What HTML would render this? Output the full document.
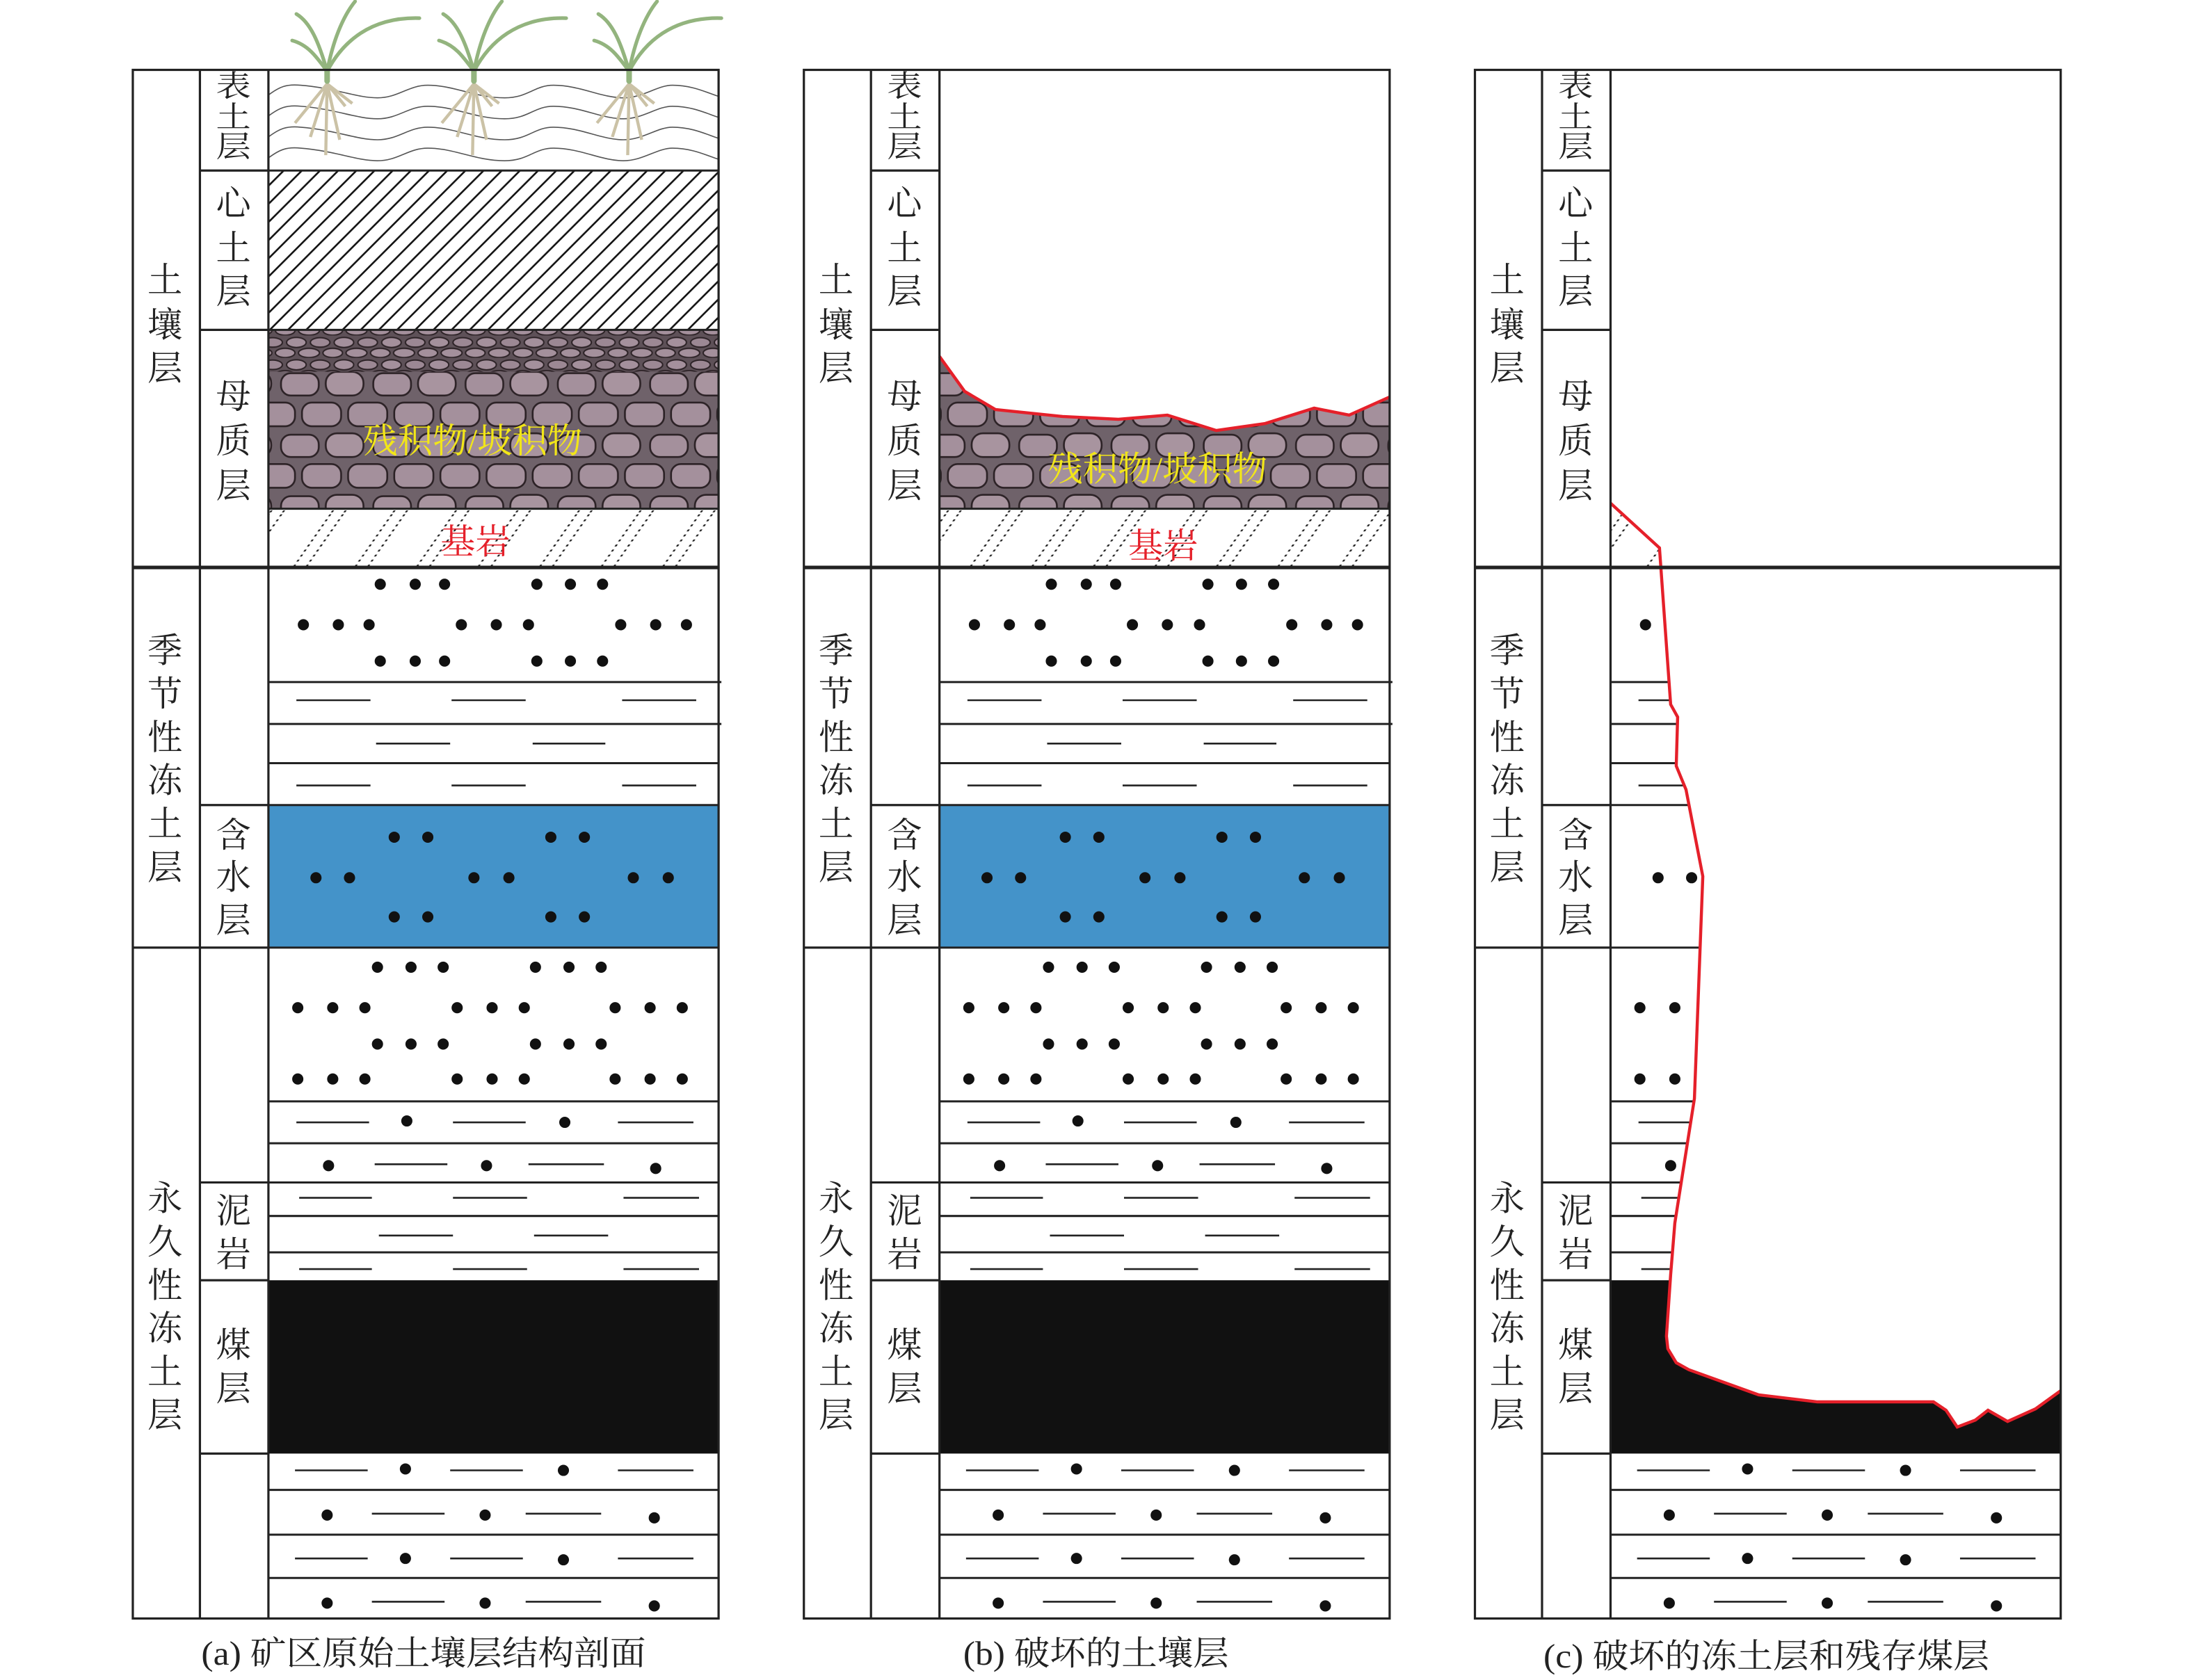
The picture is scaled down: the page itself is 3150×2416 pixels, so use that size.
<!DOCTYPE html>
<html><head><meta charset="utf-8"><style>
html,body{margin:0;padding:0;background:#fff;}
svg{display:block;}
text{font-family:"Liberation Serif","Noto Serif CJK SC","Noto Sans CJK SC",serif;}
</style></head><body>
<svg width="3150" height="2416" viewBox="0 0 1567.2 1202" preserveAspectRatio="none" xmlns="http://www.w3.org/2000/svg">
<defs>
<pattern id="hatch" patternUnits="userSpaceOnUse" width="13" height="13">
<path d="M-2,15 L15,-2 M-2,2 L2,-2 M11,15 L15,11" stroke="#111" stroke-width="1.3"/>
</pattern>
<pattern id="bed" patternUnits="userSpaceOnUse" width="44" height="46" patternTransform="skewX(-35)">
<line x1="10" y1="0" x2="10" y2="46" stroke="#222" stroke-width="1.4" stroke-dasharray="1.4 2.2"/>
<line x1="19" y1="0" x2="19" y2="46" stroke="#222" stroke-width="1.4" stroke-dasharray="1.4 2.2"/>
</pattern>
<pattern id="stoneS" patternUnits="userSpaceOnUse" width="34" height="16">
<rect width="34" height="16" fill="#5e5158"/>
<ellipse cx="8" cy="5" rx="7" ry="3.6" fill="#a4909c" stroke="#2c2226" stroke-width="1"/>
<ellipse cx="25" cy="5" rx="7" ry="3.4" fill="#9c8894" stroke="#2c2226" stroke-width="1"/>
<ellipse cx="17" cy="12.5" rx="7.5" ry="3.3" fill="#a4909c" stroke="#2c2226" stroke-width="1"/>
<ellipse cx="0" cy="12.5" rx="7" ry="3.3" fill="#a4909c" stroke="#2c2226" stroke-width="1"/>
<ellipse cx="34" cy="12.5" rx="7" ry="3.3" fill="#a4909c" stroke="#2c2226" stroke-width="1"/>
</pattern>
<pattern id="stoneL" patternUnits="userSpaceOnUse" width="66" height="44">
<rect width="66" height="44" fill="#6f626a"/>
<rect x="3" y="3" width="27" height="16" rx="7" fill="#a4909c" stroke="#2c2226" stroke-width="1.3"/>
<rect x="35" y="2" width="27" height="17" rx="8" fill="#a8949f" stroke="#2c2226" stroke-width="1.3"/>
<rect x="18" y="24" width="28" height="17" rx="7" fill="#a4909c" stroke="#2c2226" stroke-width="1.3"/>
<rect x="-15" y="24" width="28" height="17" rx="7" fill="#a4909c" stroke="#2c2226" stroke-width="1.3"/>
<rect x="51" y="24" width="28" height="17" rx="7" fill="#a4909c" stroke="#2c2226" stroke-width="1.3"/>
</pattern>

<g id="frame">
<rect x="95" y="50" width="419" height="1108" fill="none" stroke="#222" stroke-width="1.6"/>
<line x1="143" y1="50" x2="143" y2="1158" stroke="#222" stroke-width="1.6"/>
<line x1="192" y1="50" x2="192" y2="1158" stroke="#222" stroke-width="1.6"/>
<line x1="95" y1="406" x2="514" y2="406" stroke="#222" stroke-width="2.6"/>
<line x1="95" y1="678" x2="192" y2="678" stroke="#222" stroke-width="1.6"/>
<g stroke="#222" stroke-width="1.6">
<line x1="143" y1="122" x2="192" y2="122"/><line x1="143" y1="236" x2="192" y2="236"/>
<line x1="143" y1="576" x2="192" y2="576"/><line x1="143" y1="846" x2="192" y2="846"/>
<line x1="143" y1="916" x2="192" y2="916"/><line x1="143" y1="1040" x2="192" y2="1040"/>
</g>
<g font-size="25" fill="#222" text-anchor="middle">
<text x="118" y="209">土</text><text x="118" y="241">壤</text><text x="118" y="272">层</text>
<text x="118" y="474">季</text><text x="118" y="505">节</text><text x="118" y="536">性</text><text x="118" y="567">冻</text><text x="118" y="598">土</text><text x="118" y="629">层</text>
<text x="118" y="866">永</text><text x="118" y="897">久</text><text x="118" y="928">性</text><text x="118" y="959">冻</text><text x="118" y="990">土</text><text x="118" y="1021">层</text>
<g transform="translate(167,0) scale(1,0.85)"><text x="0" y="81">表</text><text x="0" y="107">土</text><text x="0" y="132">层</text></g>
<text x="167" y="154">心</text><text x="167" y="186">土</text><text x="167" y="217">层</text>
<text x="167" y="292">母</text><text x="167" y="324">质</text><text x="167" y="356">层</text>
<text x="167" y="606">含</text><text x="167" y="636">水</text><text x="167" y="667">层</text>
<text x="167" y="875">泥</text><text x="167" y="906">岩</text>
<text x="167" y="971">煤</text><text x="167" y="1002">层</text>
</g>
</g>

<rect id="blue" x="192" y="576" width="322" height="102" fill="#4493c9"/>

<g id="low">
<rect x="192" y="916" width="322" height="124" fill="#111"/>
<g stroke="#222" stroke-width="1.5">
<line x1="192" y1="488" x2="516" y2="488"/><line x1="192" y1="518" x2="516" y2="518"/><line x1="192" y1="546" x2="514" y2="546"/>
<line x1="192" y1="576" x2="514" y2="576"/><line x1="192" y1="678" x2="514" y2="678"/>
<line x1="192" y1="788" x2="514" y2="788"/><line x1="192" y1="818" x2="514" y2="818"/><line x1="192" y1="846" x2="514" y2="846"/>
<line x1="192" y1="870" x2="514" y2="870"/><line x1="192" y1="896" x2="514" y2="896"/>
<line x1="192" y1="1066" x2="514" y2="1066"/><line x1="192" y1="1098" x2="514" y2="1098"/><line x1="192" y1="1129" x2="514" y2="1129"/>
</g>
<g stroke="#222" stroke-width="1.3">
<path d="M212 501H265M323 501H376M445 501H498"/>
<path d="M269 532H322M381 532H433"/>
<path d="M212 562H265M323 562H376M445 562H498"/>
<path d="M212 803H264M324 803H376M442 803H496"/>
<path d="M268 833H320M378 833H432"/>
<path d="M214 857H266M324 857H377M446 857H500"/>
<path d="M271 884H324M382 884H435"/>
<path d="M214 908H266M324 908H377M446 908H500"/>
<path d="M211 1052H263M322 1052H374M442 1052H496"/>
<path d="M266 1083H318M376 1083H430"/>
<path d="M211 1115H263M322 1115H374M442 1115H496"/>
<path d="M266 1146H318M376 1146H430"/>
</g>
<g fill="#111">
<circle cx="272" cy="418" r="4"/><circle cx="297" cy="418" r="4"/><circle cx="318" cy="418" r="4"/><circle cx="384" cy="418" r="4"/><circle cx="408" cy="418" r="4"/><circle cx="431" cy="418" r="4"/>
<circle cx="217" cy="447" r="4"/><circle cx="242" cy="447" r="4"/><circle cx="264" cy="447" r="4"/><circle cx="330" cy="447" r="4"/><circle cx="355" cy="447" r="4"/><circle cx="378" cy="447" r="4"/><circle cx="444" cy="447" r="4"/><circle cx="469" cy="447" r="4"/><circle cx="491" cy="447" r="4"/>
<circle cx="272" cy="473" r="4"/><circle cx="297" cy="473" r="4"/><circle cx="318" cy="473" r="4"/><circle cx="384" cy="473" r="4"/><circle cx="408" cy="473" r="4"/><circle cx="431" cy="473" r="4"/>
<circle cx="282" cy="599" r="4"/><circle cx="306" cy="599" r="4"/><circle cx="394" cy="599" r="4"/><circle cx="418" cy="599" r="4"/>
<circle cx="226" cy="628" r="4"/><circle cx="250" cy="628" r="4"/><circle cx="339" cy="628" r="4"/><circle cx="364" cy="628" r="4"/><circle cx="453" cy="628" r="4"/><circle cx="478" cy="628" r="4"/>
<circle cx="282" cy="656" r="4"/><circle cx="306" cy="656" r="4"/><circle cx="394" cy="656" r="4"/><circle cx="418" cy="656" r="4"/>
<circle cx="270" cy="692" r="4"/><circle cx="294" cy="692" r="4"/><circle cx="317" cy="692" r="4"/><circle cx="383" cy="692" r="4"/><circle cx="407" cy="692" r="4"/><circle cx="430" cy="692" r="4"/>
<circle cx="213" cy="721" r="4"/><circle cx="238" cy="721" r="4"/><circle cx="261" cy="721" r="4"/><circle cx="327" cy="721" r="4"/><circle cx="352" cy="721" r="4"/><circle cx="375" cy="721" r="4"/><circle cx="440" cy="721" r="4"/><circle cx="465" cy="721" r="4"/><circle cx="488" cy="721" r="4"/>
<circle cx="270" cy="747" r="4"/><circle cx="294" cy="747" r="4"/><circle cx="317" cy="747" r="4"/><circle cx="383" cy="747" r="4"/><circle cx="407" cy="747" r="4"/><circle cx="430" cy="747" r="4"/>
<circle cx="213" cy="772" r="4"/><circle cx="238" cy="772" r="4"/><circle cx="261" cy="772" r="4"/><circle cx="327" cy="772" r="4"/><circle cx="352" cy="772" r="4"/><circle cx="375" cy="772" r="4"/><circle cx="440" cy="772" r="4"/><circle cx="465" cy="772" r="4"/><circle cx="488" cy="772" r="4"/>
<circle cx="291" cy="802" r="4"/><circle cx="404" cy="803" r="4"/>
<circle cx="235" cy="834" r="4"/><circle cx="348" cy="834" r="4"/><circle cx="469" cy="836" r="4"/>
<circle cx="290" cy="1051" r="4"/><circle cx="403" cy="1052" r="4"/>
<circle cx="234" cy="1084" r="4"/><circle cx="347" cy="1084" r="4"/><circle cx="468" cy="1086" r="4"/>
<circle cx="290" cy="1115" r="4"/><circle cx="403" cy="1116" r="4"/>
<circle cx="234" cy="1147" r="4"/><circle cx="347" cy="1147" r="4"/><circle cx="468" cy="1149" r="4"/>
</g>
</g>
<clipPath id="clipC">
<polygon points="1150,360 1186,392 1195,504 1200,513 1199,548 1206,565 1218,627 1212,786 1198,875 1195,912 1192,956 1193,965 1199,975 1208,980 1258,998 1300,1003 1383,1003 1392,1009 1400,1021 1413,1016 1422,1009 1436,1017 1456,1008 1474,995 1476,1160 1150,1160"/>
</clipPath>
<clipPath id="clipB">
<polygon points="672,255 690,280 712,293 760,298 800,300 835,297 870,308 905,303 940,292 965,297 994,284 996,366 672,366"/>
</clipPath>
</defs>

<!-- Panel A -->
<g>
<g stroke="#555" stroke-width="0.8" fill="none">
<path d="M192,68 C200,62 205,60 215,61 C240,63 255,70 270,70 C285,70 292,61 306,61 C325,61 340,70 361,70 C378,70 382,61 396,61 C415,61 430,70 446,70 C460,70 470,61 481,61 C495,61 505,66 514,69"/>
<path d="M192,83 C200,77 205,75 215,76 C240,78 255,85 270,85 C285,85 292,76 306,76 C325,76 340,85 361,85 C378,85 382,76 396,76 C415,76 430,85 446,85 C460,85 470,76 481,76 C495,76 505,81 514,84"/>
<path d="M192,98 C200,92 205,90 215,91 C240,93 255,100 270,100 C285,100 292,91 306,91 C325,91 340,100 361,100 C378,100 382,91 396,91 C415,91 430,100 446,100 C460,100 470,91 481,91 C495,91 505,96 514,99"/>
<path d="M192,113 C200,107 205,105 215,106 C240,108 255,115 270,115 C285,115 292,106 306,106 C325,106 340,115 361,115 C378,115 382,106 396,106 C415,106 430,115 446,115 C460,115 470,106 481,106 C495,106 505,111 514,114"/>
</g>
<g id="plant">
<g stroke="#cbc2a6" stroke-width="2.2" fill="none">
<path d="M234,58 L233,111"/><path d="M234,60 L211,88"/><path d="M234,60 L222,98"/><path d="M234,60 L243,100"/><path d="M234,60 L252,74"/><path d="M234,60 L247,76"/>
</g>
<g stroke="#93b47e" stroke-width="2.6" fill="none" stroke-linecap="round">
<path d="M234,51 C228,30 222,16 212,10"/>
<path d="M234,51 C238,30 245,12 254,1"/>
<path d="M234,51 C245,30 265,12 300,13"/>
<path d="M234,51 C226,40 220,32 209,29"/>
<path d="M234,50 L234,58" stroke-width="4"/>
</g>
</g>
<use href="#plant" transform="translate(105,0)"/>
<use href="#plant" transform="translate(216,0)"/>
<rect x="192" y="122" width="322" height="114" fill="url(#hatch)"/>
<rect x="192" y="236" width="322" height="128" fill="url(#stoneL)"/>
<rect x="192" y="236" width="322" height="30" fill="url(#stoneS)"/>
<rect x="192" y="364" width="322" height="42" fill="url(#bed)"/>
<g stroke="#222" stroke-width="1.5"><line x1="192" y1="122" x2="514" y2="122"/><line x1="192" y1="236" x2="514" y2="236"/><line x1="192" y1="364" x2="514" y2="364"/></g>
<text x="338" y="324" font-size="25" fill="#f2e618" text-anchor="middle">残积物/坡积物</text>
<text x="340" y="396" font-size="25" fill="#e5202a" text-anchor="middle">基岩</text>
<use href="#blue"/>
<use href="#low"/>
<use href="#frame"/>
</g>

<!-- Panel B -->
<g>
<g clip-path="url(#clipB)">
<rect x="672" y="236" width="322" height="128" fill="url(#stoneL)"/>
</g>
<rect x="672" y="364" width="322" height="42" fill="url(#bed)"/>
<line x1="672" y1="364" x2="994" y2="364" stroke="#222" stroke-width="1.5"/>
<polyline points="672,255 690,280 712,293 760,298 800,300 835,297 870,308 905,303 940,292 965,297 994,284" fill="none" stroke="#e5202a" stroke-width="2.2"/>
<text x="828" y="344" font-size="25" fill="#f2e618" text-anchor="middle">残积物/坡积物</text>
<text x="832" y="399" font-size="25" fill="#e5202a" text-anchor="middle">基岩</text>
<use href="#blue" transform="translate(480,0)"/>
<use href="#low" transform="translate(480,0)"/>
<use href="#frame" transform="translate(480,0)"/>
</g>

<!-- Panel C -->
<g>
<g clip-path="url(#clipC)">
<rect x="1152" y="364" width="322" height="42" fill="url(#bed)"/>
<use href="#low" transform="translate(960,0)"/>
</g>
<polyline points="1152,360 1187,392 1195,504 1200,513 1199,548 1206,565 1218,627 1212,786 1198,875 1195,912 1192,956 1193,965 1199,975 1208,980 1258,998 1300,1003 1383,1003 1392,1009 1400,1021 1413,1016 1422,1009 1436,1017 1456,1008 1474,995" fill="none" stroke="#e5202a" stroke-width="2.2"/>
<use href="#frame" transform="translate(960,0)"/>
</g>

<g font-size="24" fill="#222">
<text x="144" y="1191" textLength="318" lengthAdjust="spacingAndGlyphs">(a) 矿区原始土壤层结构剖面</text>
<text x="689" y="1191" textLength="190" lengthAdjust="spacingAndGlyphs">(b) 破坏的土壤层</text>
<text x="1104" y="1193" textLength="319" lengthAdjust="spacingAndGlyphs">(c) 破坏的冻土层和残存煤层</text>
</g>
</svg>
</body></html>
